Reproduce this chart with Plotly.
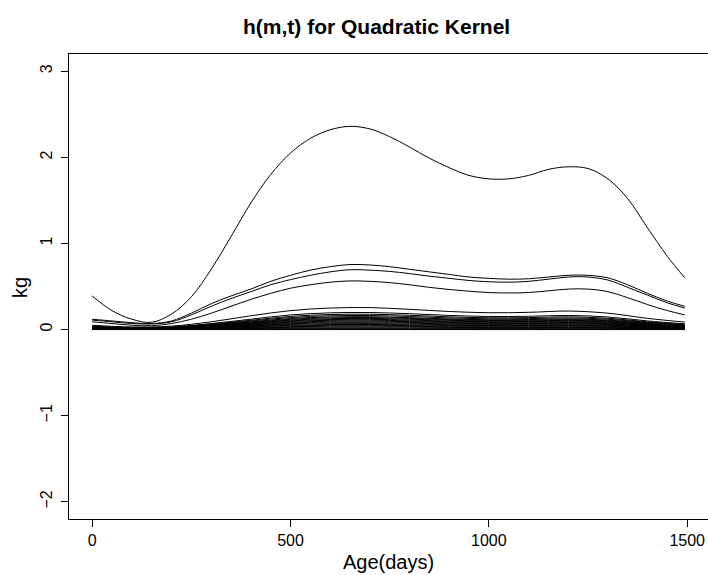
import plotly.graph_objects as go

# ---- data ----
AGE_FINE = [0, 50, 100, 150, 200, 250, 300, 350, 400, 450, 500, 550, 600, 650, 700, 750,
            800, 850, 900, 950, 1000, 1050, 1100, 1150, 1200, 1250, 1300, 1350, 1400, 1450, 1494]
AGE_COARSE = [0, 100, 200, 300, 400, 500, 600, 700, 800, 900, 1000, 1100, 1200, 1300, 1400, 1494]

H_TOP = [0.39, 0.22, 0.12, 0.085, 0.18, 0.38, 0.70, 1.08, 1.47, 1.80, 2.05, 2.22, 2.32, 2.36, 2.33, 2.24,
         2.12, 1.99, 1.88, 1.79, 1.75, 1.75, 1.79, 1.86, 1.89, 1.87, 1.75, 1.52, 1.18, 0.85, 0.60]
H_A = [0.12, 0.10, 0.08, 0.07, 0.10, 0.19, 0.30, 0.39, 0.47, 0.56, 0.63, 0.69, 0.73, 0.755, 0.75, 0.73,
       0.70, 0.67, 0.64, 0.61, 0.595, 0.585, 0.59, 0.61, 0.63, 0.63, 0.60, 0.52, 0.42, 0.33, 0.27]
H_B = [0.11, 0.09, 0.07, 0.065, 0.09, 0.17, 0.27, 0.36, 0.44, 0.52, 0.58, 0.63, 0.67, 0.695, 0.69, 0.675,
       0.65, 0.62, 0.595, 0.57, 0.555, 0.55, 0.56, 0.585, 0.61, 0.61, 0.575, 0.49, 0.40, 0.31, 0.25]
H_C = [0.09, 0.07, 0.05, 0.045, 0.07, 0.12, 0.19, 0.27, 0.35, 0.42, 0.48, 0.52, 0.55, 0.565, 0.56, 0.545,
       0.52, 0.49, 0.465, 0.445, 0.43, 0.425, 0.43, 0.45, 0.47, 0.47, 0.44, 0.37, 0.29, 0.22, 0.17]

H_D = [0.05, 0.03, 0.04, 0.09, 0.16, 0.22, 0.25, 0.255, 0.235, 0.21, 0.195, 0.2, 0.215, 0.19, 0.13, 0.086]
S01 = [0.04, 0.02, 0.03, 0.07, 0.12, 0.17, 0.194, 0.198, 0.184, 0.164, 0.152, 0.154, 0.164, 0.146, 0.10, 0.066]
S02 = [0.036, 0.018, 0.027, 0.063, 0.108, 0.153, 0.175, 0.178, 0.166, 0.148, 0.137, 0.139, 0.148, 0.131, 0.09, 0.059]
S03 = [0.033, 0.017, 0.025, 0.058, 0.099, 0.14, 0.16, 0.163, 0.152, 0.135, 0.125, 0.127, 0.135, 0.12, 0.083, 0.054]
S04 = [0.03, 0.015, 0.023, 0.053, 0.09, 0.128, 0.146, 0.149, 0.138, 0.123, 0.114, 0.116, 0.123, 0.11, 0.075, 0.05]
S05 = [0.028, 0.014, 0.021, 0.049, 0.084, 0.119, 0.136, 0.139, 0.129, 0.115, 0.106, 0.108, 0.115, 0.102, 0.07, 0.046]
S06 = [0.026, 0.013, 0.02, 0.046, 0.078, 0.11, 0.126, 0.129, 0.12, 0.107, 0.099, 0.1, 0.107, 0.095, 0.065, 0.043]
S07 = [0.024, 0.012, 0.018, 0.042, 0.072, 0.102, 0.116, 0.119, 0.11, 0.098, 0.091, 0.092, 0.098, 0.088, 0.06, 0.04]
S08 = [0.022, 0.011, 0.017, 0.039, 0.066, 0.094, 0.107, 0.109, 0.101, 0.09, 0.084, 0.085, 0.09, 0.08, 0.055, 0.036]
S09 = [0.02, 0.01, 0.015, 0.035, 0.06, 0.085, 0.097, 0.099, 0.092, 0.082, 0.076, 0.077, 0.082, 0.073, 0.05, 0.033]
S10 = [0.018, 0.009, 0.014, 0.032, 0.054, 0.077, 0.087, 0.089, 0.083, 0.074, 0.068, 0.069, 0.074, 0.066, 0.045, 0.03]
S11 = [0.016, 0.008, 0.012, 0.028, 0.048, 0.068, 0.078, 0.079, 0.074, 0.066, 0.061, 0.062, 0.066, 0.058, 0.04, 0.026]
S12 = [0.014, 0.007, 0.011, 0.025, 0.042, 0.06, 0.068, 0.069, 0.064, 0.057, 0.053, 0.054, 0.057, 0.051, 0.035, 0.023]
S13 = [0.012, 0.006, 0.009, 0.021, 0.036, 0.051, 0.058, 0.059, 0.055, 0.049, 0.046, 0.046, 0.049, 0.044, 0.03, 0.02]
S14 = [0.01, 0.005, 0.008, 0.018, 0.03, 0.043, 0.049, 0.05, 0.046, 0.041, 0.038, 0.039, 0.041, 0.037, 0.025, 0.017]
S15 = [0.008, 0.004, 0.006, 0.014, 0.024, 0.034, 0.039, 0.04, 0.037, 0.033, 0.03, 0.031, 0.033, 0.029, 0.02, 0.013]
S16 = [0.006, 0.003, 0.005, 0.011, 0.018, 0.026, 0.029, 0.03, 0.028, 0.025, 0.023, 0.023, 0.025, 0.022, 0.015, 0.01]
S17 = [0.004, 0.002, 0.003, 0.007, 0.012, 0.017, 0.019, 0.02, 0.018, 0.016, 0.015, 0.015, 0.016, 0.015, 0.01, 0.007]
S18 = [0.002, 0.001, 0.002, 0.004, 0.006, 0.009, 0.01, 0.01, 0.009, 0.008, 0.008, 0.008, 0.008, 0.007, 0.005, 0.003]
S19 = [0.001, 0.001, 0.001, 0.002, 0.003, 0.004, 0.005, 0.005, 0.005, 0.004, 0.004, 0.004, 0.004, 0.004, 0.003, 0.002]
S20 = [0.0, 0.0, 0.0, 0.0, 0.0, 0.0, 0.0, 0.0, 0.0, 0.0, 0.0, 0.0, 0.0, 0.0, 0.0, 0.0]

X_TICKS = [0, 500, 1000, 1500]
Y_TICKS = [-2, -1, 0, 1, 2, 3]

TITLE = "h(m,t) for Quadratic Kernel"
X_LABEL = "Age(days)"
Y_LABEL = "kg"

FONT = "Liberation Sans, Arial, Helvetica, sans-serif"

fig = go.Figure()
line_style = dict(color="black", width=1, shape="spline", smoothing=1.0)

for ys in [H_TOP, H_A, H_B, H_C]:
    fig.add_trace(go.Scatter(x=AGE_FINE, y=ys, mode="lines", line=line_style,
                             showlegend=False, hoverinfo="skip"))
for ys in [H_D, S01, S02, S03, S04, S05, S06, S07, S08, S09, S10,
           S11, S12, S13, S14, S15, S16, S17, S18, S19, S20]:
    fig.add_trace(go.Scatter(x=AGE_COARSE, y=ys, mode="lines", line=line_style,
                             showlegend=False, hoverinfo="skip"))

W, H = 708, 575
ML, MR, MT, MB = 69, 0, 54, 56
pw, ph = W - ML - MR, H - MT - MB
X_LO = -58.4
X_HI = X_LO + pw / 0.3967

def px_x(p):
    return (p - ML) / pw

def px_y(p):
    return (H - MB - p) / ph

fig.update_layout(
    width=W, height=H,
    margin=dict(l=ML, r=MR, t=MT, b=MB),
    paper_bgcolor="white", plot_bgcolor="white",
    font=dict(family=FONT, size=16, color="black"),
    showlegend=False,
    xaxis=dict(range=[X_LO, X_HI], tickvals=X_TICKS, ticktext=[str(v) for v in X_TICKS],
               showgrid=False, zeroline=False, showline=True, mirror=True,
               linecolor="black", linewidth=1, ticks="outside", ticklen=7,
               tickcolor="black", tickwidth=1, tickfont=dict(size=16)),
    yaxis=dict(range=[-2.2, 3.2], tickvals=Y_TICKS, showgrid=False, zeroline=False,
               showline=True, mirror=False, linecolor="black", linewidth=1,
               ticks="outside", ticklen=7, tickcolor="black", tickwidth=1,
               tickangle=-90, tickfont=dict(size=16), ticklabelstandoff=3),
    annotations=[
        dict(text="<b>" + TITLE + "</b>", xref="paper", yref="paper",
             x=px_x(376), y=px_y(27), showarrow=False, font=dict(size=21),
             xanchor="center", yanchor="middle"),
        dict(text=X_LABEL, xref="paper", yref="paper", x=px_x(388), y=px_y(562),
             showarrow=False, font=dict(size=20), xanchor="center", yanchor="middle"),
        dict(text=Y_LABEL, xref="paper", yref="paper", x=px_x(20), y=px_y(288),
             showarrow=False, font=dict(size=20), textangle=-90,
             xanchor="center", yanchor="middle"),
    ],
)

fig.write_html("out.html")
